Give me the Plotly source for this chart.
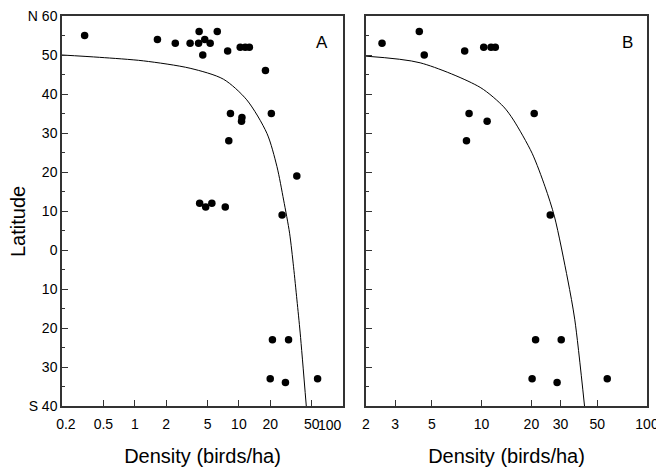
import math
import plotly.graph_objects as go

# Panel A observations (density birds/ha, latitude; south negative)
a_density = [0.33, 1.65, 2.45, 3.4, 4.1, 4.15, 4.7, 5.3, 4.5, 6.2, 7.8, 10.3, 11.5, 12.6,
             18, 8.3, 10.7, 10.6, 20.5, 8.0, 36, 4.2, 4.8, 5.5, 7.4, 26,
             21, 30, 20, 28, 57]
a_lat = [55, 54, 53, 53, 53, 56, 54, 53, 50, 56, 51, 52, 52, 52,
         46, 35, 34, 33, 35, 28, 19, 12, 11, 12, 11, 9,
         -23, -23, -33, -34, -33]

# Panel B observations
b_density = [2.5, 4.2, 4.5, 7.9, 10.3, 11.4, 12.1, 8.4, 10.8, 20.8, 8.1, 26,
             21.2, 30.3, 20.2, 28.6, 57.5]
b_lat = [53, 56, 50, 51, 52, 52, 52, 35, 33, 35, 28, 9,
         -23, -23, -33, -34, -33]

# Fitted curves
a_curve_x = [0.2, 0.46, 1.21, 3.4, 7.1, 11.9, 18.6, 23.2, 26.9, 30.7, 33.5, 36.1, 38.8, 44.4]
a_curve_y = [50, 49.4, 48.5, 46.6, 43.8, 38.5, 29.9, 21.4, 12.8, 4.3, -4.3, -12.8, -21.3, -40]
b_curve_x = [2, 4.25, 9.8, 13.6, 15.6, 20.2, 24.2, 27.6, 33.2, 36.6, 41.9]
b_curve_y = [49.7, 48, 41.7, 36.7, 33.3, 24.8, 16.2, 8.5, -7.7, -17.9, -40]

a_ticks = [0.2, 0.5, 1, 2, 5, 10, 20, 50, 100]
a_labels = ["\u00a0\u00a00.2", "0.5", "1", "2", "5", "10", "20", "50", ""]
b_ticks = [2, 3, 5, 10, 20, 30, 50, 100]
b_labels = ["2", "3", "5", "10", "20", "30", "50", "100"]
y_ticks = [60, 50, 40, 30, 20, 10, 0, -10, -20, -30, -40]
y_labels = ["N 60", "50", "40", "30", "20", "10", "0", "10", "20", "30", "S 40"]

FONT = "Liberation Sans, Arial, sans-serif"
INK = "#000000"
FRAME = "#333333"
TICK_SIZE = 14

# page body has an 8px margin: figure is 656x462 so it fits the 664x470 window
W, H = 656, 462
OFF = 8

def px_x(v):
    return (v - OFF) / W

def px_y(v):
    return 1 - (v - OFF) / H

fig = go.Figure()
fig.add_trace(go.Scatter(x=a_curve_x, y=a_curve_y, mode="lines",
                         line=dict(color=INK, width=1, shape="spline", smoothing=0.8),
                         xaxis="x", yaxis="y", hoverinfo="skip"))
fig.add_trace(go.Scatter(x=a_density, y=a_lat, mode="markers", marker=dict(color=INK, size=7.5),
                         xaxis="x", yaxis="y"))
fig.add_trace(go.Scatter(x=b_curve_x, y=b_curve_y, mode="lines",
                         line=dict(color=INK, width=1, shape="spline", smoothing=0.8),
                         xaxis="x2", yaxis="y2", hoverinfo="skip"))
fig.add_trace(go.Scatter(x=b_density, y=b_lat, mode="markers", marker=dict(color=INK, size=7.5),
                         xaxis="x2", yaxis="y2"))

ydom = [px_y(406), px_y(16)]
common_x = dict(type="log", showgrid=False, zeroline=False, showline=True, linecolor=FRAME, linewidth=1.5,
                mirror=True, ticks="inside", ticklen=6, tickcolor=FRAME,
                tickfont=dict(size=TICK_SIZE, color=INK), ticklabeloverflow="allow",
                automargin=False, tickangle=0, ticklabelstandoff=4,
                title=dict(text="Density (birds/ha)", font=dict(size=20, color=INK), standoff=18))
common_y = dict(range=[-40, 60], showgrid=False, zeroline=False, showline=True, linecolor=FRAME, linewidth=1.5,
                mirror=True, ticks="inside", ticklen=6, tickcolor=FRAME, tickvals=y_ticks, ticktext=y_labels,
                tickfont=dict(size=TICK_SIZE, color=INK), ticklabeloverflow="allow", automargin=False,
                minor=dict(dtick=5, ticks="inside", ticklen=3, tickcolor=FRAME), domain=ydom)

fig.update_layout(
    width=W, height=H, margin=dict(l=0, r=0, t=0, b=0, autoexpand=False),
    paper_bgcolor="white", plot_bgcolor="white", showlegend=False,
    font=dict(family=FONT, color=INK),
    xaxis=dict(common_x, domain=[px_x(62), px_x(343)], range=[math.log10(0.2), math.log10(100)],
               tickvals=a_ticks, ticktext=a_labels, anchor="y"),
    xaxis2=dict(common_x, domain=[px_x(366), px_x(647)], range=[math.log10(2), math.log10(100)],
                tickvals=b_ticks, ticktext=b_labels, anchor="y2"),
    yaxis=dict(common_y, anchor="x"),
    yaxis2=dict(common_y, anchor="x2", showticklabels=False),
    annotations=[
        dict(text="Latitude", x=px_x(18), y=px_y(222), xref="paper", yref="paper", textangle=-90,
             xanchor="center", yanchor="middle", showarrow=False, font=dict(size=20, color=INK)),
        dict(text="100", x=2, y=-0.0487, xref="x", yref="y domain", xanchor="right", yanchor="middle",
             xshift=1, showarrow=False, font=dict(size=TICK_SIZE, color=INK)),
        dict(text="A", x=0.924, y=0.933, xref="x domain", yref="y domain", xanchor="center", yanchor="middle",
             showarrow=False, font=dict(size=17, color=INK)),
        dict(text="B", x=0.932, y=0.933, xref="x2 domain", yref="y2 domain", xanchor="center", yanchor="middle",
             showarrow=False, font=dict(size=17, color=INK)),
    ],
)

fig.write_html("out.html")
